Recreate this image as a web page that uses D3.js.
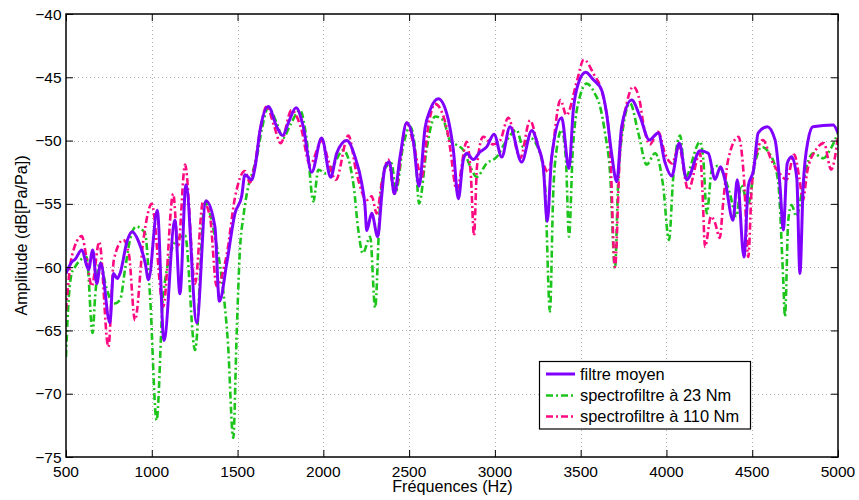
<!DOCTYPE html>
<html><head><meta charset="utf-8">
<script src="https://cdn.jsdelivr.net/npm/d3@7"></script>
<style>body{margin:0;background:#fff}svg{display:block}</style>
</head><body><svg id="c" width="859" height="500"></svg>
<script>
// ---- data ----
const freqMoyen = [500,533,552,592,631,656,679,702,756,776,799,815,858,886,921,962,981,1032,1071,1135,1164,1199,1262,1316,1368,1394,1437,1485,1524,1543,1582,1602,1631,1679,1728,1763,1796,1841,1883,1932,1990,2043,2078,2136,2185,2224,2243,2253,2282,2317,2340,2359,2385,2414,2447,2486,2524,2558,2593,2622,2670,2719,2758,2787,2816,2836,2874,2913,2952,2995,3040,3088,3156,3215,3253,3282,3305,3331,3389,3432,3457,3486,3529,3574,3622,3651,3680,3710,3739,3797,3846,3900,3952,3991,4031,4075,4118,4196,4244,4283,4316,4341,4388,4413,4452,4477,4508,4535,4588,4633,4662,4681,4704,4730,4760,4778,4797,4826,4854,4972,5000];
const dbMoyen = [-60.5,-59.6,-59.4,-58.65,-60.2,-58.65,-61.3,-59.7,-64.4,-60.5,-60.9,-60.5,-57.85,-57.2,-57.9,-59.7,-61.0,-55.5,-65.8,-56.3,-62.1,-53.5,-64.4,-54.75,-56.8,-62.7,-59.7,-55.75,-54.4,-52.7,-53.1,-52.1,-49.2,-47.3,-48.9,-49.6,-48.6,-47.4,-48.9,-52.5,-49.8,-52.9,-51.0,-50.0,-51.3,-53.4,-55.2,-57.1,-55.75,-57.6,-54.4,-52.1,-51.7,-54.2,-51.3,-48.6,-50.0,-53.6,-49.0,-47.6,-46.7,-47.85,-50.75,-54.6,-51.5,-51.0,-51.5,-50.9,-50.5,-49.5,-51.3,-48.9,-51.7,-49.2,-50.5,-52.1,-56.4,-51.3,-48.2,-52.2,-47.6,-45.5,-44.6,-45.2,-46.0,-47.85,-51.0,-53.25,-48.9,-46.8,-48.1,-49.95,-49.4,-51.7,-52.8,-50.2,-53.1,-50.8,-51.0,-53.06,-52.06,-53.1,-56.3,-53.1,-59.2,-53.6,-52.3,-49.4,-48.9,-49.95,-53.6,-57.07,-51.8,-51.27,-53.0,-60.5,-53.6,-49.95,-48.9,-48.77,-49.4];

const freq23 = [500,513,533,552,620,655,670,698,733,776,815,844,873,908,960,990,1028,1067,1145,1194,1252,1310,1368,1409,1444,1475,1495,1514,1534,1563,1592,1612,1643,1679,1728,1765,1806,1864,1903,1942,1971,2016,2057,2116,2175,2204,2230,2273,2302,2330,2359,2398,2423,2464,2505,2534,2558,2604,2651,2699,2738,2777,2816,2855,2894,2952,3010,3059,3127,3164,3205,3263,3292,3321,3340,3362,3389,3414,3432,3455,3496,3535,3583,3613,3642,3671,3700,3718,3747,3788,3836,3885,3934,3980,4015,4039,4080,4109,4196,4215,4235,4265,4300,4370,4408,4435,4477,4516,4555,4600,4650,4680,4691,4710,4729,4758,4788,4817,4856,4914,4953,5000];
const db23 = [-67.1,-63.1,-60.5,-60.0,-59.2,-65.2,-62.3,-59.6,-61.5,-62.9,-62.6,-60.2,-57.85,-56.8,-57.3,-62.3,-72.1,-62.1,-57.85,-57.5,-66.55,-54.9,-57.6,-61.0,-66.0,-73.5,-65.2,-58.6,-56.0,-53.6,-52.3,-51.3,-49.0,-47.4,-48.6,-49.8,-48.8,-47.6,-49.95,-54.8,-52.3,-52.6,-52.0,-50.75,-53.4,-57.1,-58.9,-57.6,-63.2,-55.2,-52.2,-51.8,-54.0,-50.5,-48.9,-50.5,-54.96,-50.5,-48.1,-48.4,-50.0,-50.35,-50.75,-52.0,-52.86,-51.8,-51.3,-50.2,-49.16,-50.5,-49.8,-51.0,-53.5,-63.5,-54.2,-50.5,-49.16,-51.5,-57.6,-50.5,-46.5,-45.5,-46.3,-47.3,-49.4,-52.5,-60.1,-53.5,-49.0,-47.06,-49.4,-51.9,-51.0,-53.5,-57.85,-53.0,-49.6,-52.9,-50.1,-51.5,-55.75,-52.3,-52.0,-54.2,-56.0,-53.5,-55.0,-51.8,-50.5,-51.0,-53.1,-60.75,-63.9,-56.3,-55.1,-56.0,-54.2,-52.06,-51.0,-51.4,-50.75,-49.4];

const freq110 = [500,533,592,621,650,694,747,779,834,867,902,951,1000,1067,1125,1153,1194,1252,1299,1339,1378,1437,1485,1543,1572,1602,1631,1670,1712,1751,1815,1870,1922,1992,2027,2073,2146,2194,2253,2282,2311,2340,2379,2414,2486,2529,2573,2610,2651,2719,2738,2777,2836,2861,2878,2896,2932,2989,3030,3078,3147,3205,3253,3311,3382,3417,3480,3518,3574,3631,3671,3700,3729,3770,3807,3846,3863,3904,3952,3991,4031,4073,4127,4196,4210,4225,4260,4283,4311,4330,4360,4420,4452,4477,4498,4540,4563,4610,4660,4700,4745,4775,4796,4820,4870,4918,4960,5000];
const db110 = [-63.4,-59.2,-57.55,-59.4,-61.5,-58.0,-66.3,-59.4,-57.85,-59.0,-64.2,-57.85,-55.0,-63.1,-54.2,-58.5,-51.9,-61.3,-54.8,-56.0,-61.5,-59.0,-54.5,-52.4,-53.3,-51.8,-49.2,-47.3,-48.8,-50.2,-47.6,-49.0,-51.9,-50.0,-51.5,-53.1,-49.6,-52.6,-54.7,-54.4,-55.75,-53.4,-51.5,-54.2,-48.6,-50.5,-52.9,-49.0,-47.1,-49.0,-50.5,-53.9,-50.1,-53.0,-57.5,-52.0,-49.7,-50.3,-50.0,-48.2,-51.4,-48.4,-50.5,-52.5,-46.8,-48.0,-45.2,-43.6,-44.7,-46.5,-50.5,-60.0,-51.0,-47.0,-45.74,-47.0,-48.5,-50.3,-49.3,-51.0,-51.8,-50.5,-53.9,-51.0,-54.0,-58.4,-56.0,-56.5,-57.7,-55.0,-51.5,-49.7,-53.0,-59.2,-53.5,-50.35,-49.95,-51.5,-52.6,-53.1,-51.1,-53.0,-54.7,-52.5,-50.75,-50.2,-52.3,-49.7];

const xTicks = [500,1000,1500,2000,2500,3000,3500,4000,4500,5000];
const yTicks = [-40,-45,-50,-55,-60,-65,-70,-75];
const seriesNames = ["filtre moyen","spectrofiltre à 23 Nm","spectrofiltre à 110 Nm"];
const xLabel = "Fréquences (Hz)";
const yLabel = "Amplitude (dB[Pa/Pa])";

// ---- drawing ----
const W = 859, H = 500;
const m = {left:66, right:21, top:14, bottom:43};
const pw = W - m.left - m.right, ph = H - m.top - m.bottom;
const svg = d3.select("#c");
const font = "'Liberation Sans', Arial, Helvetica, sans-serif";

const x = d3.scaleLinear().domain([500,5000]).range([m.left, m.left+pw]);
const y = d3.scaleLinear().domain([-75,-40]).range([m.top+ph, m.top]);

svg.append("rect").attr("width",W).attr("height",H).attr("fill","#fff");

// grid
const grid = svg.append("g").attr("stroke","#b0b0b0").attr("stroke-width",1).attr("stroke-dasharray","1,3");
xTicks.slice(1,-1).forEach(t => grid.append("line").attr("x1",Math.round(x(t))+0.5).attr("x2",Math.round(x(t))+0.5).attr("y1",m.top).attr("y2",m.top+ph));
yTicks.slice(1,-1).forEach(t => grid.append("line").attr("y1",Math.round(y(t))+0.5).attr("y2",Math.round(y(t))+0.5).attr("x1",m.left).attr("x2",m.left+pw));

// curves
svg.append("defs").append("clipPath").attr("id","clip").append("rect")
  .attr("x",m.left).attr("y",m.top).attr("width",pw).attr("height",ph);
const line = d3.line().x(d=>x(d[0])).y(d=>y(d[1])).curve(d3.curveMonotoneX);
const series = [
  {name:seriesNames[1], f:freq23, v:db23, color:"#1cc41c", dash:"7,3,2,3", w:2.6},
  {name:seriesNames[2], f:freq110, v:db110, color:"#ff0a80", dash:"7,3,2,3", w:2.6},
  {name:seriesNames[0], f:freqMoyen, v:dbMoyen, color:"#8000ff", dash:null, w:3}
];
const cg = svg.append("g").attr("clip-path","url(#clip)");
series.forEach(s => {
  cg.append("path").datum(s.f.map((f,i)=>[f,s.v[i]]))
    .attr("d",line).attr("fill","none").attr("stroke",s.color)
    .attr("stroke-width",s.w).attr("stroke-dasharray",s.dash)
    .attr("stroke-linejoin","round");
});

// axes: box with inward ticks on all sides
const tl = 7;
const axisBottom = d3.axisBottom(x).tickValues(xTicks).tickSizeInner(-tl).tickSizeOuter(0).tickFormat("");
const axisTop = d3.axisTop(x).tickValues(xTicks).tickSizeInner(-tl).tickSizeOuter(0).tickFormat("");
const axisLeft = d3.axisLeft(y).tickValues(yTicks).tickSizeInner(-tl).tickSizeOuter(0).tickFormat("");
const axisRight = d3.axisRight(y).tickValues(yTicks).tickSizeInner(-tl).tickSizeOuter(0).tickFormat("");
[[axisBottom,`translate(0,${m.top+ph})`],[axisTop,`translate(0,${m.top})`],
 [axisLeft,`translate(${m.left},0)`],[axisRight,`translate(${m.left+pw},0)`]].forEach(([a,t])=>{
  const g = svg.append("g").attr("transform",t).call(a);
  g.select(".domain").remove();
  g.selectAll("line").attr("stroke","#000").attr("stroke-width",1);
});
svg.append("rect").attr("x",m.left).attr("y",m.top).attr("width",pw).attr("height",ph)
  .attr("fill","none").attr("stroke","#000").attr("stroke-width",1.5);

// tick labels
const tg = svg.append("g").attr("font-family",font).attr("font-size","15.5px").attr("fill","#000");
xTicks.forEach(t => tg.append("text").attr("x",x(t)).attr("y",477).attr("text-anchor","middle").text(String(t)));
yTicks.forEach(t => tg.append("text").attr("x",m.left-4.5).attr("y",y(t)).attr("dy","0.36em").attr("text-anchor","end").text(String(t).replace("-","\u2212")));

// axis labels
svg.append("text").attr("x",452.5).attr("y",492).attr("text-anchor","middle")
  .attr("font-family",font).attr("font-size","16.2px").text(xLabel);
svg.append("text").attr("transform",`translate(27,${m.top+ph/2}) rotate(-90)`).attr("text-anchor","middle")
  .attr("font-family",font).attr("font-size","16.2px").text(yLabel);

// legend
const lg = svg.append("g");
lg.append("rect").attr("x",539.5).attr("y",361.5).attr("width",211).attr("height",67.5)
  .attr("fill","#fff").attr("stroke","#000").attr("stroke-width",1.2);
const order = [series[2], series[0], series[1]];
const rowsY = [374, 395.5, 416.5];
order.forEach((s,i)=>{
  lg.append("line").attr("x1",546).attr("x2",575).attr("y1",rowsY[i]).attr("y2",rowsY[i])
    .attr("stroke",s.color).attr("stroke-width",s.w).attr("stroke-dasharray",s.dash);
  lg.append("text").attr("x",580).attr("y",rowsY[i]).attr("dy","0.36em")
    .attr("font-family",font).attr("font-size","16.4px").text(s.name);
});
</script>
</body></html>
